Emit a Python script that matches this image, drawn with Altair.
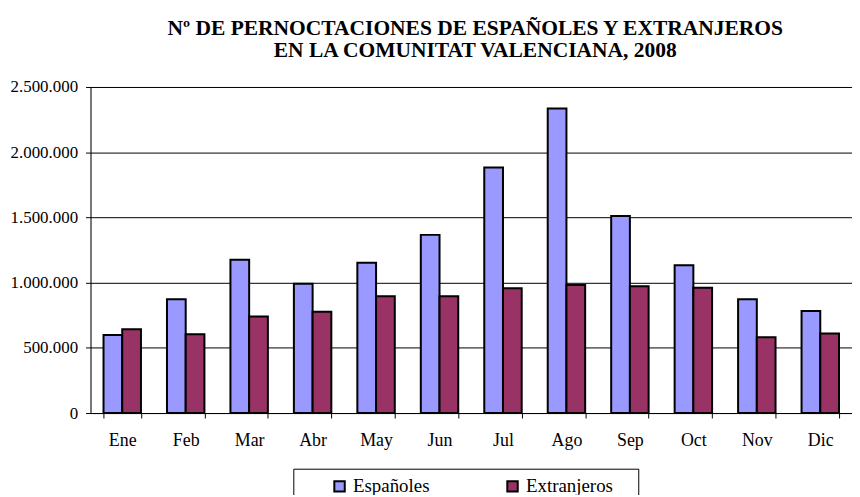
import altair as alt
import pandas as pd

months = ["Ene", "Feb", "Mar", "Abr", "May", "Jun", "Jul", "Ago", "Sep", "Oct", "Nov", "Dic"]
series = ["Españoles", "Extranjeros"]
espanoles = [598000, 872000, 1175000, 992000, 1152000, 1366000, 1882000, 2335000, 1511000, 1134000, 872000, 783000]
extranjeros = [643000, 605000, 740000, 776000, 895000, 895000, 956000, 982000, 972000, 961000, 582000, 610000]
colors = ["#9999FF", "#993366"]
y_ticks = [0, 500000, 1000000, 1500000, 2000000, 2500000]

rows = []
for m, e, x in zip(months, espanoles, extranjeros):
    rows.append({"mes": m, "serie": series[0], "valor": e})
    rows.append({"mes": m, "serie": series[1], "valor": x})
df = pd.DataFrame(rows)

FONT = "Liberation Serif"

chart = alt.Chart(df).mark_bar(stroke="black", strokeWidth=2).encode(
    x=alt.X("mes:N", sort=months, title=None,
            scale=alt.Scale(paddingInner=0.41, paddingOuter=0.205),
            axis=alt.Axis(labelAngle=0, tickBand="extent", grid=False, tickSize=5,
                          labelPadding=14, labelFont=FONT, labelFontSize=18,
                          labelColor="black", domainColor="black", tickColor="black")),
    xOffset=alt.XOffset("serie:N", sort=series,
                        scale=alt.Scale(paddingInner=0, paddingOuter=0)),
    y=alt.Y("valor:Q", title=None,
            scale=alt.Scale(domain=[0, 2500000], nice=False),
            axis=alt.Axis(values=y_ticks, tickSize=5, labelPadding=8,
                          labelExpr="replace(replace(format(datum.value, ','), ',', '.'), ',', '.')",
                          labelFont=FONT, labelFontSize=17, labelColor="black",
                          domainColor="black", tickColor="black",
                          gridColor="black", gridWidth=1, gridOpacity=1)),
    color=alt.Color("serie:N", sort=series,
                    scale=alt.Scale(domain=series, range=colors),
                    legend=alt.Legend(title="\u00a0", titleOrient="right", titlePadding=17,
                                      titleFontSize=19,
                                      orient="none", legendX=204, legendY=384,
                                      direction="horizontal", strokeColor="black",
                                      fillColor="white", padding=8, symbolOffset=29,
                                      symbolType="square", symbolSize=110,
                                      symbolStrokeColor="black", symbolStrokeWidth=2,
                                      labelFont=FONT, labelFontSize=19, labelColor="black",
                                      labelOffset=4, columnPadding=44)),
).properties(
    width=766,
    height=328,
    title=alt.Title(["Nº DE PERNOCTACIONES DE ESPAÑOLES Y EXTRANJEROS",
                     "EN LA COMUNITAT VALENCIANA, 2008"],
                    font=FONT, fontSize=21.6, fontWeight="bold", color="black",
                    lineHeight=22, offset=17, dx=4),
    autosize=alt.AutoSizeParams(type="none"),
    padding={"left": 83, "top": 78, "right": 0, "bottom": 81},
).configure_view(stroke=None).configure(background="white")

chart.save("out.html", embed_options={"renderer": "svg", "actions": False})
